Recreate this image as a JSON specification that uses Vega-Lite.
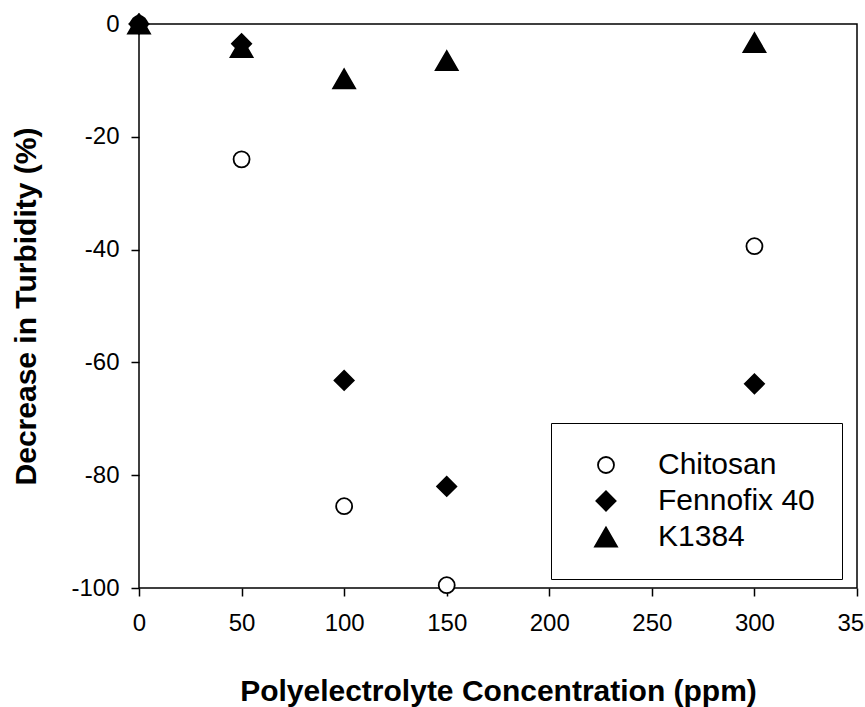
{
  "$schema": "https://vega.github.io/schema/vega-lite/v6.json",
  "width": 718,
  "height": 564,
  "autosize": {"type": "none"},
  "padding": {"left": 139, "top": 24, "right": 8, "bottom": 119},
  "background": "white",
  "config": {
    "font": "Liberation Sans",
    "view": {"stroke": "#000", "strokeWidth": 1.5},
    "axis": {"grid": false, "domain": false, "tickColor": "#000", "tickWidth": 1.5, "tickSize": 8,
      "labelFont": "Liberation Sans", "labelFontSize": 24, "labelColor": "#000",
      "titleFont": "Liberation Sans", "titleFontSize": 30, "titleFontWeight": "bold", "titleColor": "#000"}
  },
  "data": {
    "values": [
      {"series": "Chitosan", "conc": 0, "value": 0},
      {"series": "Chitosan", "conc": 50, "value": -24},
      {"series": "Chitosan", "conc": 100, "value": -85.5},
      {"series": "Chitosan", "conc": 150, "value": -99.5},
      {"series": "Chitosan", "conc": 300, "value": -39.4},
      {"series": "Fennofix 40", "conc": 0, "value": 0},
      {"series": "Fennofix 40", "conc": 50, "value": -3.5},
      {"series": "Fennofix 40", "conc": 100, "value": -63.2},
      {"series": "Fennofix 40", "conc": 150, "value": -82},
      {"series": "Fennofix 40", "conc": 300, "value": -63.8},
      {"series": "K1384", "conc": 0, "value": 0},
      {"series": "K1384", "conc": 50, "value": -4.2},
      {"series": "K1384", "conc": 100, "value": -9.7},
      {"series": "K1384", "conc": 150, "value": -6.5},
      {"series": "K1384", "conc": 300, "value": -3.3}
    ]
  },
  "mark": {"type": "point", "filled": false, "stroke": "#000", "strokeWidth": 1.8, "opacity": 1, "clip": false},
  "encoding": {
    "x": {"field": "conc", "type": "quantitative",
      "scale": {"domain": [0, 350], "nice": false, "zero": false},
      "axis": {"values": [0, 50, 100, 150, 200, 250, 300, 350], "labelPadding": 15, "title": "Polyelectrolyte Concentration (ppm)", "titlePadding": 41, "labelFlush": false, "labelOverlap": false}},
    "y": {"field": "value", "type": "quantitative",
      "scale": {"domain": [-100, 0], "nice": false, "zero": false},
      "axis": {"values": [-100, -80, -60, -40, -20, 0], "labelPadding": 12, "title": "Decrease in Turbidity (%)", "titlePadding": 29, "labelFlush": false,
        "labelExpr": "replace(datum.label, '\u2212', '-')"}},
    "shape": {"field": "series", "type": "nominal",
      "scale": {"domain": ["Chitosan", "Fennofix 40", "K1384"], "range": ["circle", "diamond", "triangle-up"]},
      "legend": {"title": null, "orient": "none", "legendX": 412, "legendY": 399,
        "strokeColor": "#000", "padding": 27, "symbolOffset": 13, "labelOffset": 37,
        "labelFontSize": 30, "labelFont": "Liberation Sans", "labelColor": "#000", "rowPadding": 6,
        "symbolStrokeColor": "#000", "symbolStrokeWidth": 1.8, "symbolOpacity": 1}},
    "fill": {"field": "series", "type": "nominal",
      "scale": {"domain": ["Chitosan", "Fennofix 40", "K1384"], "range": ["#fff", "#000", "#000"]}},
    "size": {"field": "series", "type": "nominal",
      "scale": {"domain": ["Chitosan", "Fennofix 40", "K1384"], "range": [256, 484, 400]}}
  }
}
